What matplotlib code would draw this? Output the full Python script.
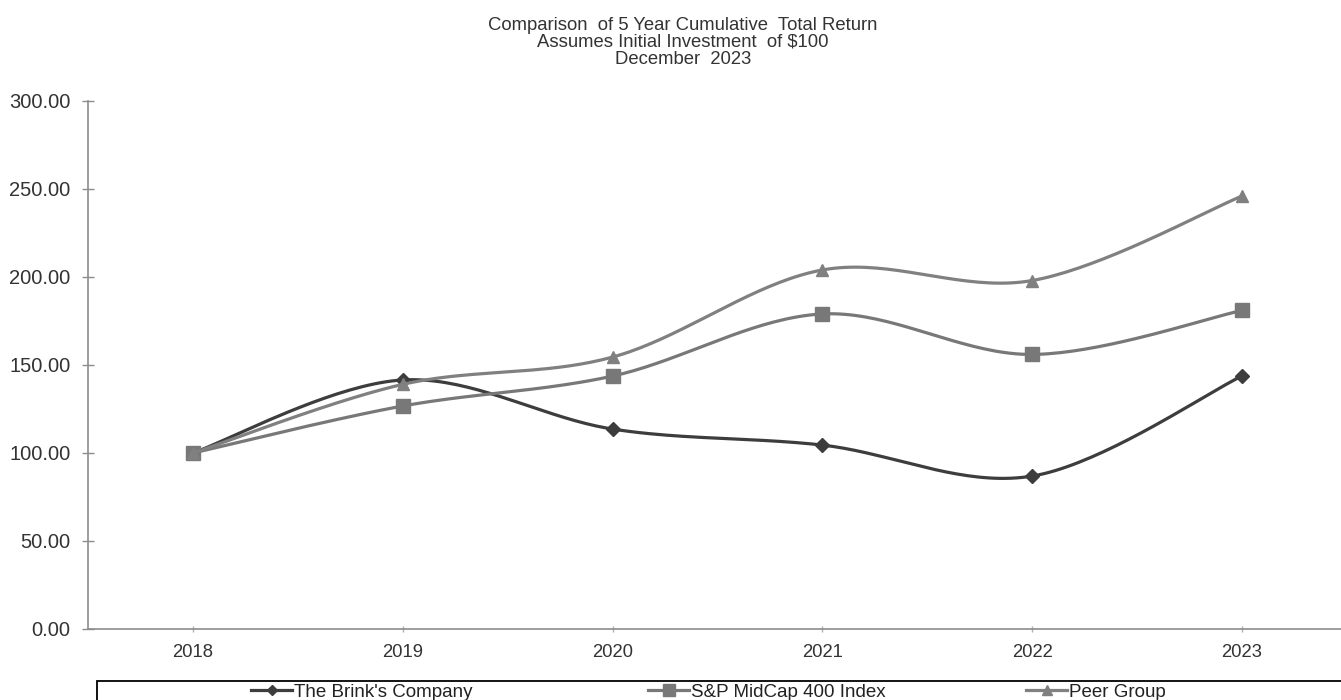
import matplotlib
matplotlib.use('Agg')
import matplotlib.pyplot as plt
from matplotlib.patches import Rectangle
from matplotlib.lines import Line2D
import numpy as np

years = ['2018', '2019', '2020', '2021', '2022', '2023']
brinks = [100.00, 141.5, 113.6, 104.5, 86.9, 143.8]
midcap = [100.00, 126.7, 143.7, 179.0, 156.0, 181.0]
peer = [100.00, 139.0, 154.5, 204.0, 198.0, 246.0]

series = [
    ("The Brink's Company", brinks, '#3d3d3d', 'D', 7),
    ('S&P MidCap 400 Index', midcap, '#787878', 's', 10),
    ('Peer Group', peer, '#808080', '^', 9),
]


def smooth(x, y, n=40):
    # excel style smoothed line: bezier segments with catmull-rom controls
    x = np.asarray(x, dtype=float)
    y = np.asarray(y, dtype=float)
    px = np.concatenate(([x[0]], x, [x[-1]]))
    py = np.concatenate(([y[0]], y, [y[-1]]))
    t = np.linspace(0, 1, n)
    xs, ys = [], []
    for i in range(1, len(px) - 2):
        p0 = np.array([px[i], py[i]])
        p3 = np.array([px[i + 1], py[i + 1]])
        c1 = p0 + (p3 - np.array([px[i - 1], py[i - 1]])) / 6
        c2 = p3 - (np.array([px[i + 2], py[i + 2]]) - p0) / 6
        b = ((1 - t) ** 3)[:, None] * p0 + (3 * (1 - t) ** 2 * t)[:, None] * c1 \
            + (3 * (1 - t) * t ** 2)[:, None] * c2 + (t ** 3)[:, None] * p3
        xs.append(b[:, 0])
        ys.append(b[:, 1])
    return np.concatenate(xs), np.concatenate(ys)


plt.rcParams['font.family'] = ['Liberation Sans', 'DejaVu Sans']

W, H = 1341, 700
fig = plt.figure(figsize=(W / 100, H / 100), dpi=100)
ax = fig.add_axes([88 / W, 71 / H, (1347 - 88) / W, 528 / H])

x = np.arange(len(years))
for name, vals, color, marker, ms in series:
    sx, sy = smooth(x, vals)
    ax.plot(sx, sy, '-', color=color, lw=2.3, solid_capstyle='round')
    ax.plot(x, vals, linestyle='none', marker=marker, color=color, markersize=ms)

ax.set_xlim(-0.5, len(years) - 0.5)
ax.set_ylim(0, 300)
ax.set_yticks(np.arange(0, 301, 50))
ax.set_yticklabels(['{:.2f}'.format(v) for v in np.arange(0, 301, 50)])
ax.set_xticks(x)
ax.set_xticklabels(years)

for side in ['top', 'right']:
    ax.spines[side].set_visible(False)
for side in ['left', 'bottom']:
    ax.spines[side].set_color('#8c8c8c')
    ax.spines[side].set_linewidth(1.2)
ax.tick_params(axis='y', direction='inout', length=9, width=1, color='#8c8c8c',
               labelsize=14.5, labelcolor='#333333', pad=8)
ax.tick_params(axis='x', direction='inout', length=5, width=1, color='#b0b0b0',
               labelsize=13.3, labelcolor='#333333', pad=8)

# title
title_lines = ['Comparison  of 5 Year Cumulative  Total Return',
               'Assumes Initial Investment  of $100',
               'December  2023']
for i, line in enumerate(title_lines):
    fig.text(683 / W, 1 - (25 + 17.5 * i) / H, line, ha='center', va='center',
             fontsize=13.3, color='#333333')

# legend box
fig.add_artist(Rectangle((97 / W, -0.02), 1.0, 0.02 + 19 / H, transform=fig.transFigure,
                         fill=False, edgecolor='black', lw=1.3))
legend_x = [251, 648, 1026]
for (name, vals, color, marker, ms), lx in zip(series, legend_x):
    h = Line2D([], [], color=color, lw=2.3, marker=marker, markersize=ms * 0.8)
    fig.legend(handles=[h], labels=[name], loc='center left',
               bbox_to_anchor=(lx / W, 8 / H), frameon=False, fontsize=13.5,
               handlelength=2.2, handletextpad=0.1, borderpad=0, borderaxespad=0,
               labelcolor='#222222')

fig.savefig('out.png', dpi=100)
